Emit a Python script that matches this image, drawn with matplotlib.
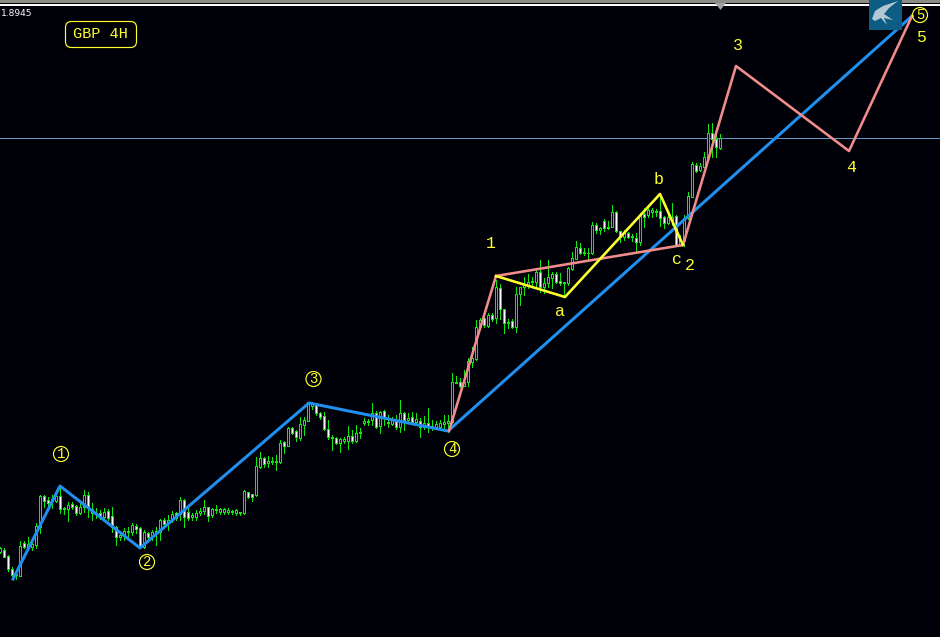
import numpy as np
import matplotlib
matplotlib.use('Agg')
import matplotlib.pyplot as plt
from matplotlib.patches import Circle, FancyBboxPatch, Polygon, Rectangle

# chart levels are read off the screen, the axis runs top to bottom like the terminal
# one row per candle: wick top, body top, body bottom, wick bottom, white body
candles = [
    (547, 548, 552, 553, 0), (548, 550, 557, 557, 1), (555, 556, 569, 571, 1), (567, 569, 575, 578, 1),
    (572, 574, 575, 579, 0), (541, 546, 576, 576, 0), (541, 543, 547, 548, 1), (537, 544, 547, 550, 0),
    (542, 544, 547, 550, 0), (523, 526, 545, 548, 0), (495, 496, 527, 533, 0), (495, 496, 501, 507, 1),
    (497, 500, 503, 507, 1), (495, 499, 501, 508, 0), (490, 496, 501, 502, 0), (487, 496, 509, 513, 1),
    (507, 508, 509, 514, 0), (502, 505, 509, 521, 0), (502, 504, 507, 509, 1), (505, 506, 513, 515, 1),
    (503, 507, 513, 514, 0), (490, 495, 507, 512, 0), (492, 495, 507, 517, 1), (503, 509, 513, 520, 0),
    (508, 513, 514, 518, 0), (510, 513, 517, 519, 1), (508, 512, 517, 520, 0), (509, 511, 518, 520, 1),
    (507, 516, 527, 532, 1), (526, 527, 537, 545, 1), (532, 535, 537, 540, 0), (528, 531, 535, 540, 0),
    (527, 531, 532, 537, 0), (523, 525, 532, 535, 0), (524, 526, 529, 533, 1), (527, 528, 547, 548, 1),
    (530, 532, 547, 548, 0), (532, 533, 537, 542, 1), (530, 532, 536, 540, 0), (527, 531, 532, 545, 0),
    (519, 520, 532, 540, 0), (518, 520, 524, 528, 1), (515, 520, 523, 530, 0), (511, 514, 520, 522, 0),
    (512, 513, 518, 520, 1), (497, 500, 514, 520, 0), (499, 500, 517, 527, 1), (508, 512, 518, 520, 1),
    (513, 515, 517, 520, 0), (510, 513, 517, 520, 0), (508, 511, 513, 515, 0), (500, 507, 511, 514, 0),
    (507, 507, 516, 521, 1), (508, 509, 515, 517, 0), (505, 509, 510, 513, 0), (508, 509, 512, 514, 0),
    (508, 509, 512, 514, 0), (508, 510, 512, 514, 0), (510, 511, 512, 514, 0), (509, 510, 513, 515, 0),
    (512, 512, 513, 515, 0), (490, 491, 513, 514, 0), (492, 492, 497, 498, 1), (494, 494, 497, 501, 1),
    (457, 466, 495, 496, 0), (452, 458, 467, 468, 0), (457, 458, 464, 467, 1), (456, 461, 463, 467, 0),
    (457, 461, 462, 464, 0), (455, 461, 462, 470, 0), (440, 443, 462, 463, 0), (441, 442, 446, 453, 1),
    (427, 428, 446, 446, 0), (427, 428, 433, 434, 1), (430, 431, 437, 441, 1), (417, 424, 438, 440, 0),
    (417, 420, 425, 435, 0), (402, 402, 421, 421, 0), (402, 404, 406, 409, 0), (403, 405, 413, 415, 1),
    (412, 413, 417, 419, 1), (412, 416, 429, 430, 1), (420, 429, 437, 439, 1), (435, 437, 438, 450, 0),
    (437, 438, 443, 444, 1), (438, 439, 443, 452, 0), (437, 439, 441, 443, 0), (426, 436, 441, 449, 0),
    (430, 436, 441, 443, 1), (425, 433, 441, 442, 0), (428, 432, 433, 438, 0), (418, 421, 423, 425, 0),
    (419, 421, 422, 425, 0), (403, 413, 420, 425, 0), (411, 413, 427, 428, 1), (411, 412, 426, 433, 0),
    (410, 411, 417, 425, 1), (415, 422, 423, 427, 0), (417, 419, 424, 425, 0), (415, 421, 427, 429, 1),
    (400, 413, 427, 432, 0), (412, 413, 420, 430, 1), (413, 418, 420, 422, 0), (412, 417, 422, 423, 1),
    (413, 419, 422, 425, 0), (418, 421, 427, 437, 1), (416, 423, 427, 429, 0), (408, 423, 427, 432, 1),
    (420, 426, 428, 430, 0), (421, 424, 427, 429, 0), (420, 423, 427, 429, 0), (415, 422, 424, 431, 0),
    (415, 421, 423, 432, 0), (373, 382, 422, 423, 0), (376, 382, 383, 383, 0), (378, 382, 386, 387, 1),
    (370, 382, 386, 386, 0), (358, 361, 382, 386, 0), (347, 358, 362, 367, 0), (320, 327, 359, 360, 0),
    (318, 320, 327, 328, 0), (317, 318, 325, 327, 1), (313, 315, 326, 327, 0), (313, 315, 319, 321, 1),
    (280, 287, 318, 323, 0), (284, 288, 309, 319, 1), (309, 309, 323, 333, 1), (319, 322, 323, 328, 0),
    (319, 321, 327, 328, 1), (287, 294, 327, 332, 0), (287, 287, 294, 305, 0), (277, 285, 287, 295, 0),
    (274, 282, 285, 288, 0), (277, 281, 282, 287, 0), (268, 272, 282, 288, 0), (260, 272, 287, 292, 1),
    (278, 283, 287, 293, 0), (260, 277, 283, 287, 0), (272, 274, 278, 288, 0), (272, 274, 282, 283, 1),
    (273, 281, 283, 285, 1), (282, 282, 283, 297, 0), (267, 268, 283, 285, 0), (252, 258, 269, 270, 0),
    (241, 247, 259, 259, 0), (243, 248, 253, 254, 1), (248, 252, 253, 255, 0), (248, 253, 253, 260, 0),
    (222, 225, 253, 254, 0), (223, 225, 230, 233, 1), (227, 228, 230, 234, 0), (219, 221, 228, 231, 1),
    (221, 227, 228, 229, 0), (205, 212, 227, 227, 0), (211, 212, 231, 232, 1), (231, 231, 237, 242, 1),
    (230, 233, 237, 240, 0), (232, 233, 237, 238, 1), (234, 236, 237, 241, 0), (233, 238, 242, 252, 1),
    (213, 215, 242, 245, 0), (208, 214, 217, 227, 1), (206, 210, 215, 217, 0), (208, 210, 212, 217, 0),
    (209, 211, 212, 216, 0), (195, 211, 218, 226, 1), (216, 217, 223, 228, 1), (215, 217, 223, 224, 0),
    (203, 217, 220, 225, 0), (215, 216, 245, 246, 1), (235, 240, 245, 246, 0), (215, 218, 241, 246, 0),
    (192, 196, 218, 219, 0), (162, 164, 197, 197, 0), (163, 165, 171, 172, 1), (163, 166, 170, 171, 0),
    (152, 157, 167, 167, 0), (124, 133, 158, 159, 0), (123, 133, 139, 157, 1), (133, 139, 147, 157, 1),
    (134, 138, 148, 149, 0),
]

# wave counts
main_x = [13, 60, 140, 309, 448, 912]
main_y = [579, 486, 548, 403, 431, 16]
sub_x = [449, 496, 683, 736, 849, 912]
sub_y = [431, 276, 245, 66, 151, 16]
abc_x = [496, 565, 660, 683]
abc_y = [276, 297, 194, 245]

circled = ['1', '2', '3', '4', '5']
circled_x = [61, 147, 313.5, 452, 920]
circled_y = [454, 562, 379, 449, 15]

plain = ['1', 'a', 'b', 'c', '2', '3', '4', '5']
plain_x = [491, 560, 659, 677, 690, 738, 851, 921]
plain_y = [243, 312, 180, 259, 265, 45, 168, 37]

BG = '#000008'
GREEN = '#10e810'
BLUE = '#2090f0'
PINK = '#f08c8c'
YELLOW = '#ffff30'
px = 0.72  # one screen pixel in points at dpi 100

fig = plt.figure(figsize=(9.4, 6.37), dpi=100, facecolor=BG)
ax = fig.add_axes([0, 0, 1, 1])
ax.set_xlim(0, 940)
ax.set_ylim(637, 0)
ax.set_facecolor(BG)
ax.axis('off')

# terminal frame on top
ax.add_patch(Rectangle((0, 0), 940, 3, color='#8c8c84', lw=0, zorder=1))
ax.add_patch(Rectangle((0, 4), 940, 2, color='white', lw=0, zorder=1))
ax.add_patch(Polygon([(715, 3), (726, 3), (720.5, 10)], color='#a0a0a0', lw=0, zorder=1))
ax.axhspan(138, 139, color='#6496c8', lw=0, zorder=1)

# filled bars, slightly inset: unsnapped aliased rects then land on whole pixels
rows = np.array(candles)
xs = np.arange(len(rows)) * 4 + 0.5
opts = dict(lw=0, antialiased=False, snap=False)
fills = np.array(['white' if w else BG for w in rows[:, 4]])
ax.bar(xs, rows[:, 3] - rows[:, 0] + 0.8, width=0.8, bottom=rows[:, 0] + 0.1, color=GREEN, zorder=2, **opts)
ax.bar(xs, rows[:, 2] - rows[:, 1] + 0.8, width=2.8, bottom=rows[:, 1] + 0.1, color=GREEN, zorder=3, **opts)
inner = rows[:, 2] - rows[:, 1] - 1
keep = inner > 0
ax.bar(xs[keep], inner[keep] - 0.2, width=0.8, bottom=rows[keep, 1] + 1.1, color=fills[keep], zorder=3.5, **opts)

ax.plot(main_x, main_y, color=BLUE, lw=3 * px, zorder=4)
ax.plot(sub_x, sub_y, color=PINK, lw=2.6 * px, zorder=5)
ax.plot(abc_x, abc_y, color=YELLOW, lw=2.6 * px, zorder=6)

for s, x, y in zip(circled, circled_x, circled_y):
    ax.add_patch(Circle((x, y), 7.5, fc='none', ec=YELLOW, lw=0.85, zorder=7))
    ax.text(x, y, s, color=YELLOW, fontsize=10, family='Liberation Mono',
            ha='center', va='center', zorder=8)
for s, x, y in zip(plain, plain_x, plain_y):
    ax.text(x, y, s, color=YELLOW, fontsize=12, family='Liberation Mono',
            ha='center', va='center', zorder=8)

ax.add_patch(FancyBboxPatch((65.5, 21.5), 71, 26, boxstyle='round,pad=0,rounding_size=6',
                            fc='none', ec=YELLOW, lw=0.85, zorder=7))
ax.text(100.5, 34.5, 'GBP 4H', color=YELLOW, fontsize=11, family='Liberation Mono',
        ha='center', va='center', zorder=8)
ax.text(1, 13, '1.8945', color='white', fontsize=6.5, ha='left', va='center', zorder=8)

# logo in the corner
ax.add_patch(Rectangle((869, 0), 33, 30, color='#0c5c84', lw=0, zorder=9))
ax.add_patch(Polygon([(872, 19), (875, 11), (883, 6), (898, 1), (889, 8), (884, 14), (893, 20),
                      (884, 18), (887, 25), (881, 18), (875, 21)], color='#b4c6d2', lw=0, zorder=10))

fig.savefig('out.png', dpi=100, facecolor=BG)
